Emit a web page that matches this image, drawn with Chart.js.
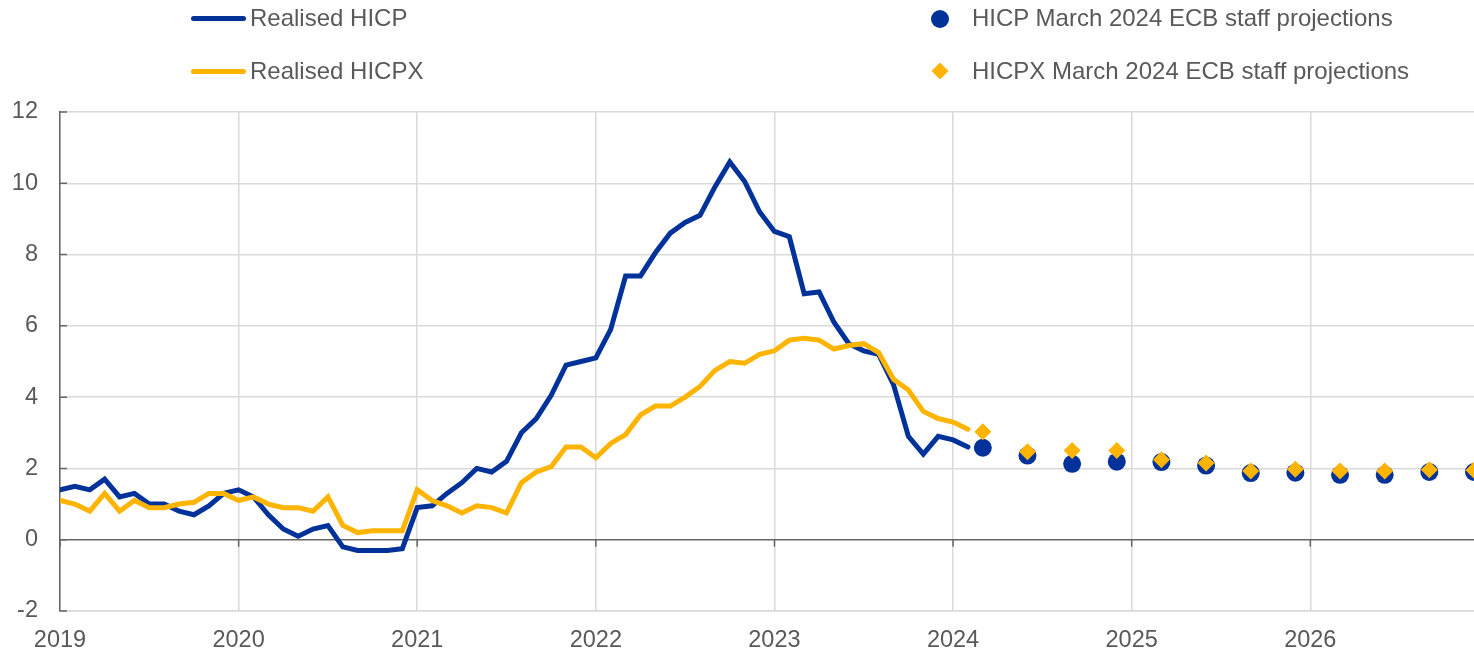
<!DOCTYPE html>
<html>
<head>
<meta charset="utf-8">
<script src="https://cdn.jsdelivr.net/npm/chart.js@4.4.1/dist/chart.umd.min.js"></script>
<style>
  body { margin: 0; background: #fff; }
  #wrap { position: relative; width: 1474px; height: 650px; }
  #grafico { position: absolute; left: 0; top: 0; }
  .leg { position: absolute; font: 24px "Liberation Sans", Arial, sans-serif; line-height: 24px; color: #595959; white-space: nowrap; }
  .linha { position: absolute; width: 55px; height: 5px; border-radius: 3px; }
  .bola { position: absolute; width: 18px; height: 18px; border-radius: 50%; background: #003299; }
  .losango { position: absolute; width: 12px; height: 12px; background: #ffb400; transform: rotate(45deg); border-radius: 1px; }
</style>
</head>
<body>
<div id="wrap">
  <canvas id="grafico" width="1474" height="650"></canvas>
  <div class="linha" style="left:191px;top:16px;background:#003299"></div>
  <div class="leg" style="left:250px;top:6px">Realised HICP</div>
  <div class="linha" style="left:191px;top:69px;background:#ffb400"></div>
  <div class="leg" style="left:250px;top:59px">Realised HICPX</div>
  <div class="bola" style="left:931px;top:10px"></div>
  <div class="leg" style="left:972px;top:6px">HICP March 2024 ECB staff projections</div>
  <div class="losango" style="left:934px;top:65px"></div>
  <div class="leg" style="left:972px;top:59px">HICPX March 2024 ECB staff projections</div>
</div>
<script>
// anos do eixo x (cada um marca janeiro)
const anos = ['2019', '2020', '2021', '2022', '2023', '2024', '2025', '2026'];

// inflação realizada, mensal, jan/2019 a fev/2024
const hicp = [
  1.4, 1.5, 1.4, 1.7, 1.2, 1.3, 1.0, 1.0, 0.8, 0.7, 0.95, 1.3,
  1.4, 1.2, 0.7, 0.3, 0.1, 0.3, 0.4, -0.2, -0.3, -0.3, -0.3, -0.25,
  0.9, 0.95, 1.3, 1.6, 2.0, 1.9, 2.2, 3.0, 3.4, 4.05, 4.9, 5.0,
  5.1, 5.9, 7.4, 7.4, 8.05, 8.6, 8.9, 9.1, 9.9, 10.6, 10.05, 9.2,
  8.65, 8.5, 6.9, 6.95, 6.1, 5.5, 5.3, 5.2, 4.35, 2.9, 2.4, 2.9,
  2.8, 2.6
];
const hicpx = [
  1.1, 1.0, 0.8, 1.3, 0.8, 1.1, 0.9, 0.9, 1.0, 1.05, 1.3, 1.3,
  1.1, 1.2, 1.0, 0.9, 0.9, 0.8, 1.2, 0.4, 0.2, 0.25, 0.25, 0.25,
  1.4, 1.1, 0.95, 0.75, 0.95, 0.9, 0.75, 1.6, 1.9, 2.05, 2.6, 2.6,
  2.3, 2.7, 2.95, 3.5, 3.75, 3.75, 4.0, 4.3, 4.75, 5.0, 4.95, 5.2,
  5.3, 5.6, 5.65, 5.6, 5.35, 5.45, 5.5, 5.25, 4.5, 4.2, 3.6, 3.4,
  3.3, 3.1
];
const inicio = { ano: 2019, mes: 1 };

// projeções trimestrais de março/2024
const trimestres = ['2024Q1', '2024Q2', '2024Q3', '2024Q4', '2025Q1', '2025Q2', '2025Q3', '2025Q4', '2026Q1', '2026Q2', '2026Q3', '2026Q4'];
const projHicp = [2.58, 2.36, 2.13, 2.19, 2.18, 2.08, 1.87, 1.88, 1.82, 1.82, 1.9, 1.9];
const projHicpx = [3.03, 2.47, 2.5, 2.5, 2.24, 2.15, 1.93, 1.98, 1.93, 1.93, 1.96, 1.95];

const azul = '#003299';
const amarelo = '#ffb400';
const cinzaGrade = '#d9d9d9';
const cinzaEixo = '#666666';

// posição em meses desde jan/2019; trimestre fica no último mês
function mesTrimestre(t) {
  const ano = parseInt(t.slice(0, 4));
  const q = parseInt(t.slice(5));
  return (ano - inicio.ano) * 12 + q * 3 - 1;
}
function serieMensal(valores) {
  return valores.map((v, i) => ({ x: i, y: v }));
}
function serieTrimestral(valores) {
  return valores.map((v, i) => ({ x: mesTrimestre(trimestres[i]), y: v }));
}

Chart.defaults.font.family = '"Liberation Sans", Arial, sans-serif';
Chart.defaults.font.size = 23.5;
Chart.defaults.color = '#595959';

// marquinhas: no eixo y para dentro, no zero para baixo
const marcas = {
  id: 'marcas',
  beforeDatasetsDraw(chart) {
    const c = chart.ctx;
    const x = chart.scales.x, y = chart.scales.y;
    const y0 = y.getPixelForValue(0);
    c.save();
    c.strokeStyle = cinzaEixo;
    c.lineWidth = 1.5;
    c.beginPath();
    y.ticks.forEach(t => {
      const py = y.getPixelForValue(t.value);
      c.moveTo(x.left, py);
      c.lineTo(x.left + 7, py);
    });
    x.ticks.forEach(t => {
      const px = x.getPixelForValue(t.value);
      c.moveTo(px, y0);
      c.lineTo(px, y0 + 7);
    });
    c.stroke();
    c.restore();
  }
};

new Chart(document.getElementById('grafico'), {
  type: 'line',
  data: {
    datasets: [
      {
        label: 'Realised HICP',
        data: serieMensal(hicp),
        borderColor: azul,
        borderWidth: 5,
        borderCapStyle: 'round',
        pointRadius: 0,
        order: 3
      },
      {
        label: 'Realised HICPX',
        data: serieMensal(hicpx),
        borderColor: amarelo,
        borderWidth: 5,
        borderCapStyle: 'round',
        pointRadius: 0,
        order: 2
      },
      {
        label: 'HICP March 2024 ECB staff projections',
        data: serieTrimestral(projHicp),
        showLine: false,
        pointStyle: 'circle',
        pointRadius: 9,
        pointBackgroundColor: azul,
        pointBorderWidth: 0,
        clip: false,
        order: 1
      },
      {
        label: 'HICPX March 2024 ECB staff projections',
        data: serieTrimestral(projHicpx),
        showLine: false,
        pointStyle: 'rectRot',
        pointRadius: 8.5,
        pointBackgroundColor: amarelo,
        pointBorderWidth: 0,
        clip: false,
        order: 0
      }
    ]
  },
  options: {
    responsive: false,
    animation: false,
    layout: { autoPadding: false, padding: { top: 112, right: 0, left: 0, bottom: 0 } },
    plugins: {
      legend: { display: false },
      tooltip: { enabled: false }
    },
    scales: {
      x: {
        type: 'linear',
        min: 0,
        max: 95,
        afterBuildTicks: (s) => { s.ticks = anos.map((a, i) => ({ value: i * 12 })); },
        afterFit: (s) => { s.height = 39; },
        ticks: {
          padding: 15,
          maxRotation: 0,
          autoSkip: false,
          callback: (v) => anos[Math.round(v / 12)]
        },
        grid: { color: cinzaGrade, lineWidth: 1.5, drawTicks: false },
        border: { color: cinzaGrade, width: 1.5 }
      },
      y: {
        min: -2,
        max: 12,
        afterFit: (s) => { s.width = 60; },
        ticks: { stepSize: 2, padding: 22 },
        grid: {
          color: (c) => c.tick && c.tick.value === 0 ? cinzaEixo : cinzaGrade,
          lineWidth: 1.5,
          drawTicks: false
        },
        border: { color: cinzaEixo, width: 1.5 }
      }
    }
  },
  plugins: [marcas]
});
</script>
</body>
</html>
